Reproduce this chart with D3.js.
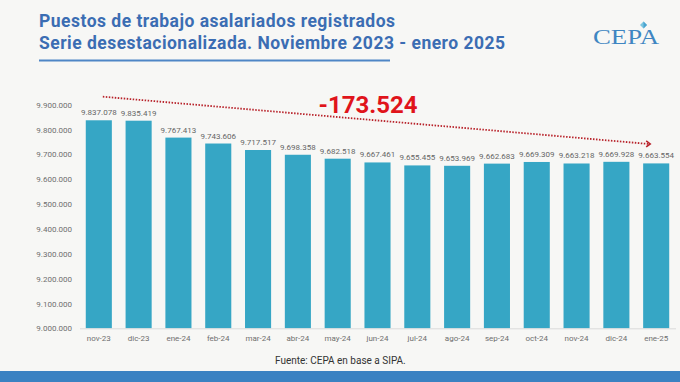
<!DOCTYPE html>
<html><head><meta charset="utf-8">
<script src="https://cdn.jsdelivr.net/npm/d3@7"></script>
<style>html,body{margin:0;padding:0;background:#f7f7f5;}svg{display:block;}</style>
</head><body>
<svg id="chart" width="680" height="382"></svg>
<script>
const categories = ["nov-23","dic-23","ene-24","feb-24","mar-24","abr-24","may-24","jun-24","jul-24","ago-24","sep-24","oct-24","nov-24","dic-24","ene-25"];
const values = [9837078,9835419,9767413,9743606,9717517,9698358,9682518,9667461,9655455,9653969,9662683,9669309,9663218,9669928,9663554];
const yTicks = [9000000,9100000,9200000,9300000,9400000,9500000,9600000,9700000,9800000,9900000];
const titleLines = ["Puestos de trabajo asalariados registrados","Serie desestacionalizada. Noviembre 2023 - enero 2025"];
const changeLabel = "-173.524";
const source = "Fuente: CEPA en base a SIPA.";

const svg = d3.select("#chart");
const fmt = v => d3.format(",")(v).replace(/,/g, ".");

svg.append("rect").attr("width",680).attr("height",382).attr("fill","#f7f7f5");

const x = d3.scaleBand().domain(categories).range([79, 676]).paddingInner(0.345).paddingOuter(0.17);
const y = d3.scaleLinear().domain([9000000, 10000000]).range([328.3, 79.8]);

// title
const titleWidths = [356, 466];
const t = svg.append("g");
titleLines.forEach((s,i)=>{
  t.append("text").attr("x",39).attr("y",27+i*22)
   .attr("font-family","Roboto").attr("font-weight","bold").attr("font-size",17.5)
   .attr("textLength",titleWidths[i]).attr("lengthAdjust","spacing")
   .attr("fill","#3b6db3").text(s);
});
svg.append("line").attr("x1",39).attr("x2",390).attr("y1",60.5).attr("y2",60.5)
  .attr("stroke","#4f86c6").attr("stroke-width",2);

// logo
svg.append("text").attr("x",593).attr("y",43.5).attr("font-family","Liberation Serif")
  .attr("font-size",21).attr("fill","#3f86c2").attr("textLength",66).attr("lengthAdjust","spacingAndGlyphs")
  .text("CEPA");
svg.append("path").attr("d","M640,25 l3.5,-3.5 l3.5,3.5 l-3.5,3.5 z").attr("fill","#7cc6e0");
svg.append("path").attr("d","M643.5,21.5 l3.5,3.5 l-3.5,3.5 z").attr("fill","#4aa3cf");

// y axis
const yAxis = svg.append("g").attr("transform","translate(80,0)")
  .call(d3.axisLeft(y).tickValues(yTicks).tickFormat(fmt).tickSize(0).tickPadding(8));
yAxis.select(".domain").remove();
yAxis.selectAll("text").attr("font-family","Roboto").attr("font-size",8).attr("fill","#6f6f6f");

// bars
svg.append("g").selectAll("rect").data(values).join("rect")
  .attr("x",(d,i)=>x(categories[i])).attr("width",x.bandwidth())
  .attr("y",d=>y(d)).attr("height",d=>y(9000000)-y(d)).attr("fill","#36a6c5");

// x axis
const xAxis = svg.append("g").attr("transform",`translate(0,${y(9000000)})`)
  .call(d3.axisBottom(x).tickSize(0).tickPadding(7));
xAxis.select(".domain").attr("stroke","#dadada").attr("d","M80,0.5H676");
xAxis.selectAll("text").attr("font-family","Roboto").attr("font-size",8).attr("fill","#6f6f6f");

// value labels
svg.append("g").selectAll("text").data(values).join("text")
  .attr("x",(d,i)=>x(categories[i])+x.bandwidth()/2).attr("y",d=>y(d)-5)
  .attr("text-anchor","middle").attr("font-family","Roboto").attr("font-size",8)
  .attr("fill","#666").text(fmt);

// trend annotation
const x0 = x(categories[0]) + x.bandwidth()/2 + 4;
const x1 = x(categories[categories.length-1]) + x.bandwidth()/2 - 6;
const y0 = y(9932000), y1 = y(9742000);
svg.append("line").attr("x1",x0).attr("y1",y0).attr("x2",x1-2).attr("y2",y1)
  .attr("stroke","#b8222a").attr("stroke-width",1.8).attr("stroke-dasharray","1.5,1.5");
svg.append("path").attr("d",`M${x1-4},${y1-3} L${x1},${y1} L${x1-4},${y1+3}`)
  .attr("fill","none").attr("stroke","#b8222a").attr("stroke-width",1.6);
svg.append("text").attr("x",368).attr("y",113).attr("text-anchor","middle")
  .attr("font-family","Roboto").attr("font-weight","bold").attr("font-size",24)
  .attr("fill","#e0141b").text(changeLabel);

// source
svg.append("text").attr("x",275).attr("y",363.5).attr("font-family","Roboto").attr("font-size",10)
  .attr("fill","#333").text(source);
svg.append("rect").attr("x",0).attr("y",371).attr("width",680).attr("height",11).attr("fill","#3b82c2");
</script>
</body></html>
